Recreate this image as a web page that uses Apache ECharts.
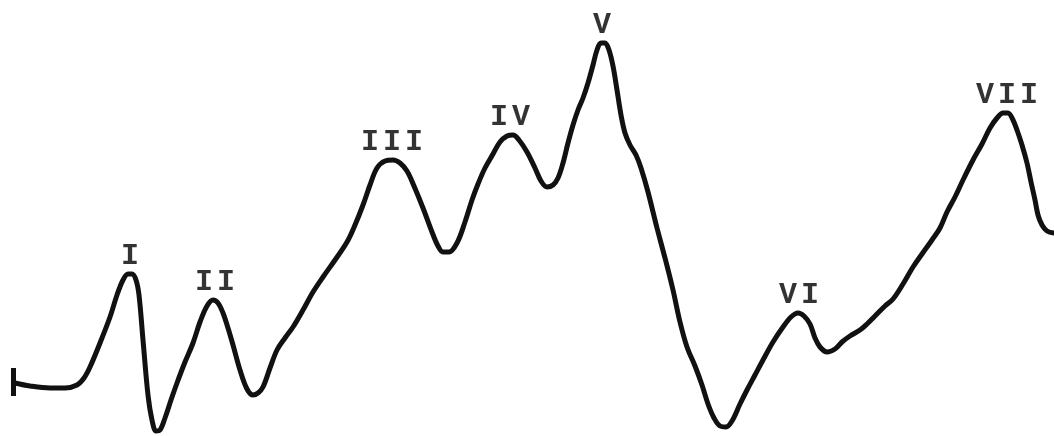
<!DOCTYPE html>
<html>
<head>
<meta charset="utf-8">
<style>
  html, body { margin: 0; padding: 0; background: #ffffff; }
  #chart { width: 1054px; height: 436px; }
</style>
<script src="https://cdn.jsdelivr.net/npm/echarts@6/dist/echarts.min.js"></script>
</head>
<body>
<div id="chart"></div>
<script>
// Evoked-response trace: sample positions and deflection (screen-down positive axis).
const sampleTime = [
  15, 30, 50, 65, 77, 84, 90, 100, 110, 117, 123, 128, 132, 136, 139, 143, 148, 152, 156, 160,
  165, 171, 177, 185, 193, 200, 207, 213, 218, 223, 228, 233, 240, 247, 253, 258, 263, 270, 277, 285,
  293, 303, 313, 323, 335, 347, 355, 363, 370, 377, 385, 393, 400, 407, 414, 423, 432, 438, 443, 449,
  457, 465, 472, 478, 485, 493, 500, 507, 513, 519, 527, 535, 541, 547, 553, 558, 563, 568, 573, 578,
  583, 588, 593, 597, 601, 605, 609, 613, 617, 621, 625, 630, 636, 641, 648, 657, 665, 673, 680, 687,
  695, 702, 708, 714, 720, 726, 732, 740, 747, 755, 763, 773, 783, 791, 798, 804, 810, 815, 820, 827,
  835, 842, 850, 860, 867, 875, 885, 893, 903, 913, 922, 932, 940, 947, 955, 963, 973, 982, 990, 997,
  1003, 1008, 1013, 1017, 1022, 1027, 1031, 1035, 1038, 1042, 1047, 1054
];
const trace = [
  383, 386, 388, 388, 385, 378, 367, 343, 317, 295, 280, 274, 274, 280, 295, 340, 395, 420, 431, 430,
  418, 400, 383, 362, 343, 322, 306, 300, 303, 313, 328, 345, 370, 389, 395, 393, 387, 368, 350, 338,
  327, 310, 292, 277, 260, 242, 225, 205, 185, 168, 161, 160, 163, 171, 186, 208, 232, 246, 252, 252,
  243, 222, 200, 184, 168, 154, 142, 136, 135, 140, 152, 168, 181, 187, 185, 178, 163, 143, 125, 110,
  98, 83, 65, 50, 43, 43, 50, 66, 90, 115, 133, 145, 155, 168, 192, 228, 258, 290, 322, 347,
  366, 385, 404, 418, 426, 427, 421, 404, 390, 375, 360, 342, 327, 317, 313, 316, 324, 338, 347, 352,
  349, 342, 336, 330, 324, 316, 306, 299, 284, 267, 254, 240, 228, 212, 197, 180, 160, 144, 128, 118,
  113, 113, 120, 130, 145, 163, 182, 200, 215, 225, 231, 233
];

// Wave peaks and their names
const peakNames = ['I', 'II', 'III', 'IV', 'V', 'VI', 'VII'];
const peakTime  = [130, 215, 392, 510, 602, 799, 1007];
const peakLevel = [274, 300, 160, 135, 43, 313, 113];

// Stimulus marker at the start of the sweep
const markerTime = 13;
const markerSpan = [368, 396];

const lineData = sampleTime.map((t, i) => [t, trace[i]]);
const peakData = peakNames.map((n, i) => ({ name: n, value: [peakTime[i], peakLevel[i]] }));

// Spread the typewriter letters apart a little
function spaced(name) {
  return name.split('').map(ch => '{c|' + ch + '}').join('');
}

const chart = echarts.init(document.getElementById('chart'), null, { renderer: 'canvas' });
chart.setOption({
  backgroundColor: '#ffffff',
  animation: false,
  grid: { left: 0, right: 0, top: 0, bottom: 0 },
  xAxis: { type: 'value', min: 0, max: 1054, show: false },
  yAxis: { type: 'value', min: 0, max: 436, inverse: true, show: false },
  series: [
    {
      type: 'line',
      data: lineData,
      smooth: 0.35,
      symbol: 'none',
      lineStyle: { color: '#111111', width: 5, cap: 'round', join: 'round' },
      markLine: {
        silent: true,
        symbol: ['none', 'none'],
        label: { show: false },
        lineStyle: { color: '#111111', width: 5, type: 'solid' },
        data: [[
          { coord: [markerTime, markerSpan[0]] },
          { coord: [markerTime, markerSpan[1]] }
        ]]
      }
    },
    {
      type: 'scatter',
      data: peakData,
      symbolSize: 0,
      silent: true,
      label: {
        show: true,
        position: 'top',
        distance: 3,
        formatter: p => spaced(p.name),
        rich: {
          c: {
            fontFamily: 'Liberation Mono',
            fontWeight: 'bold',
            fontSize: 30,
            color: '#000000',
            padding: [0, 2]
          }
        }
      }
    }
  ]
});
</script>
</body>
</html>
